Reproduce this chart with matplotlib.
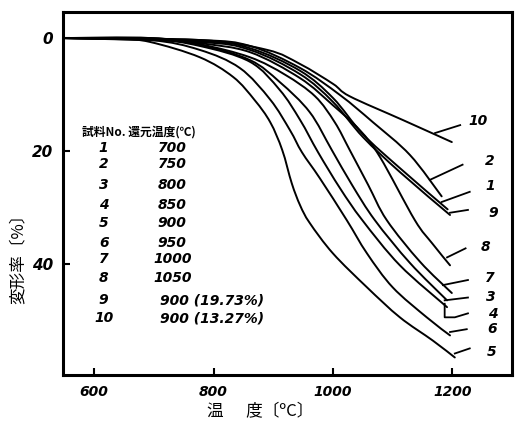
import matplotlib
matplotlib.use("Agg")
import matplotlib.pyplot as plt
import numpy as np
from matplotlib.path import Path
from matplotlib.patches import PathPatch

plt.rcParams['font.family'] = ['DejaVu Sans', 'Noto Sans CJK JP']

# temperature (°C) and deformation (%), per sample
curves = {
    "1": ([548, 777, 861, 945, 1000, 1050, 1112, 1192],
          [0, 0.5, 1.8, 5.8, 10.6, 17.0, 23.0, 30.3]),
    "2": ([548, 777, 861, 945, 1012, 1067, 1129, 1182],
          [0, 0.35, 1.4, 5.3, 10.1, 14.9, 20.7, 28.0]),
    "3": ([548, 694, 777, 861, 911, 961, 998, 1032, 1070, 1129, 1191],
          [0, 0.2, 1.2, 3.9, 7.8, 13.1, 19.8, 26.0, 32.2, 39.8, 46.4]),
    "4": ([548, 694, 777, 861, 911, 945, 975, 1012, 1049, 1112, 1191],
          [0, 0.2, 1.4, 4.2, 9.2, 14.5, 20.2, 26.6, 32.2, 40.2, 47.6]),
    "5": ([548, 644, 694, 777, 833, 869, 895, 915, 931, 945, 961, 1000, 1057, 1112, 1167, 1204],
          [0, 0.2, 0.7, 3.4, 6.9, 11.0, 14.9, 19.8, 25.7, 29.6, 32.7, 38.1, 44.1, 49.4, 53.5, 56.5]),
    "6": ([548, 694, 777, 844, 895, 928, 948, 978, 1023, 1057, 1100, 1157, 1196],
          [0, 0.35, 2.1, 5.3, 10.9, 16.3, 20.2, 24.8, 32.2, 38.1, 44.1, 49.4, 52.6]),
    "7": ([548, 694, 777, 861, 920, 970, 1003, 1028, 1059, 1090, 1146, 1199],
          [0, 0, 1.1, 3.4, 6.5, 10.3, 14.9, 19.8, 26.0, 32.2, 39.6, 45.1]),
    "8": ([548, 694, 777, 861, 945, 1000, 1045, 1079, 1137, 1166, 1196],
          [0, 0, 0.9, 2.5, 7.1, 11.9, 16.3, 21.1, 32.2, 36.3, 40.2]),
    "9": ([548, 777, 861, 945, 1000, 1050, 1112, 1196],
          [0, 0.7, 2.1, 6.4, 11.3, 17.5, 23.7, 31.3]),
    "10": ([548, 777, 890, 945, 1000, 1028, 1117, 1199],
           [0, 0.35, 2.1, 4.6, 8.1, 10.3, 14.5, 18.4]),
}

# label text position and leader line (start on curve -> end near label)
label_pos = {
    "10": (1243, 14.6, 1171, 16.8, 1213, 15.4),
    "2": (1262, 21.8, 1162, 25.1, 1217, 22.4),
    "1": (1263, 26.2, 1182, 29.0, 1229, 27.2),
    "9": (1268, 30.9, 1196, 30.9, 1226, 30.4),
    "8": (1255, 37.0, 1191, 38.8, 1222, 37.2),
    "7": (1262, 42.5, 1184, 43.7, 1226, 42.8),
    "3": (1264, 45.8, 1187, 46.4, 1226, 45.9),
    "6": (1266, 51.5, 1196, 52.0, 1224, 51.5),
    "5": (1266, 55.5, 1204, 55.8, 1229, 54.9),
}

sample_no = ["1", "2", "3", "4", "5", "6", "7", "8", "9", "10"]
reduce_temp = ["700", "750", "800", "850", "900", "950", "1000", "1050",
               "900 (19.73%)", "900 (13.27%)"]

x_ticks = [600, 800, 1000, 1200]
y_ticks = [0, 20, 40]


def smooth_path(t, d):
    # catmull-rom through the read points, as cubic bezier segments
    p = np.column_stack([t, d]).astype(float)
    n = len(p)
    verts = [p[0]]
    codes = [Path.MOVETO]
    for i in range(n - 1):
        a = p[i - 1] if i > 0 else p[i]
        b = p[i + 2] if i + 2 < n else p[i + 1]
        c1 = p[i] + (p[i + 1] - a) / 6
        c2 = p[i + 1] - (b - p[i]) / 6
        verts += [c1, c2, p[i + 1]]
        codes += [Path.CURVE4] * 3
    return Path(verts, codes)


fig = plt.figure(figsize=(5.21, 4.24), dpi=100)
ax = fig.add_axes([0.121, 0.1156, 0.862, 0.856])

for name, (t, d) in curves.items():
    ax.add_patch(PathPatch(smooth_path(t, d), facecolor="none", edgecolor="black",
                           lw=1.4, capstyle="round"))

hand = dict(fontsize=10, fontweight="bold", style="italic", color="black")
for name, (tx, ty, x0, y0, x1, y1) in label_pos.items():
    ax.plot([x0, x1], [y0, y1], color="black", lw=1.3)
    ax.text(tx, ty, name, ha="center", va="center", **hand)

# bracket for sample 4
ax.plot([1187, 1187, 1204, 1226], [47.0, 49.4, 49.4, 48.7], color="black", lw=1.3)
ax.text(1268, 48.8, "4", ha="center", va="center", **hand)

# table of samples
ax.text(580, 16.6, "試料No. 還元温度(℃)", ha="left", va="center",
        fontsize=8.5, fontweight="bold", family=["Noto Sans CJK JP", "DejaVu Sans"])
row_y = [19.5, 22.2, 26.0, 29.5, 32.7, 36.2, 39.0, 42.5, 46.4, 49.6]
for no, temp, yy in zip(sample_no, reduce_temp, row_y):
    ax.text(616, yy, no, ha="center", va="center", **hand)
    if len(temp) < 5:
        ax.text(731, yy, temp, ha="center", va="center", **hand)
    else:
        ax.text(711, yy, temp, ha="left", va="center", **hand)

ax.set_xlim(548, 1300)
ax.set_ylim(59.6, -4.6)
ax.set_xticks(x_ticks)
ax.set_yticks(y_ticks)
ax.set_xticklabels([str(v) for v in x_ticks], fontsize=10, fontweight="bold", style="italic")
ax.set_yticklabels([str(v) for v in y_ticks], fontsize=11, fontweight="bold", style="italic")
ax.tick_params(direction="in", length=5, width=1.5, pad=7)
for s in ax.spines.values():
    s.set_linewidth(2.2)

fig.text(0.50, 0.03, "温      度〔ºC〕", ha="center", va="center", fontsize=12,
         family=["Noto Sans CJK JP", "DejaVu Sans"])
fig.text(0.035, 0.40, "変形率〔%〕", ha="center", va="center", fontsize=12, rotation=90,
         family=["Noto Sans CJK JP", "DejaVu Sans"])

fig.savefig("out.png", dpi=100)
